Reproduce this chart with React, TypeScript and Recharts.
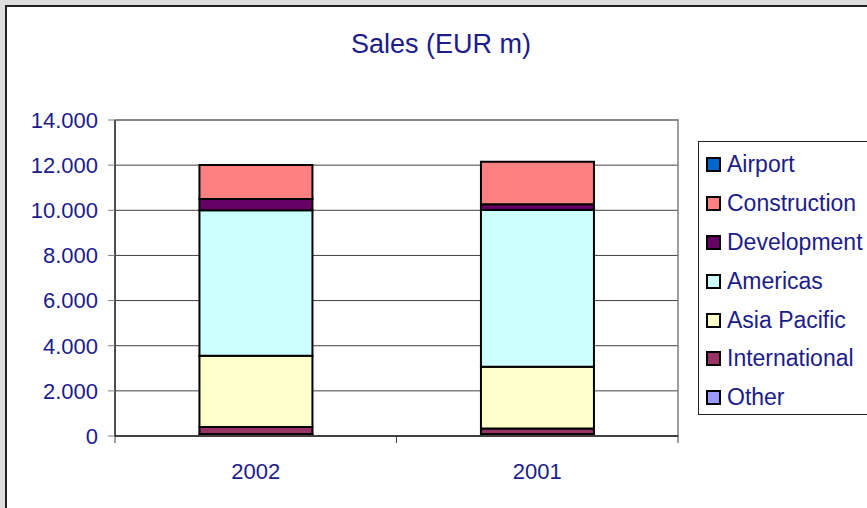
import React from 'react';
import { BarChart, Bar, XAxis, YAxis, CartesianGrid, ReferenceArea } from 'recharts';

const YEARS = ['2002', '2001'];

// stacked bottom → top
const OTHER = [90, 90];
const INTERNATIONAL = [310, 240];
const ASIA_PACIFIC = [3160, 2740];
const AMERICAS = [6440, 6940];
const DEVELOPMENT = [500, 260];
const CONSTRUCTION = [1510, 1880];
const AIRPORT = [0, 0];

const Y_TICKS = [0, 2000, 4000, 6000, 8000, 10000, 12000, 14000];

const SERIES = [
  { key: 'Other', values: OTHER, color: '#9999FF' },
  { key: 'International', values: INTERNATIONAL, color: '#993366' },
  { key: 'Asia Pacific', values: ASIA_PACIFIC, color: '#FFFFCC' },
  { key: 'Americas', values: AMERICAS, color: '#CCFFFF' },
  { key: 'Development', values: DEVELOPMENT, color: '#660066' },
  { key: 'Construction', values: CONSTRUCTION, color: '#FF8080' },
  { key: 'Airport', values: AIRPORT, color: '#0066CC' },
];

const data = YEARS.map((year, i) => {
  const row: Record<string, string | number> = { year };
  SERIES.forEach((s) => { row[s.key] = s.values[i]; });
  return row;
});

const NAVY = '#1c1c8a';
const FONT = '"Liberation Sans", Arial, Helvetica, sans-serif';

const fmt = (v: number) => String(v).replace(/\B(?=(\d{3})+(?!\d))/g, '.');

function YearTick(props: any) {
  const { x, y, payload } = props;
  const half = payload.offset ?? 0;
  return (
    <g>
      <line x1={x - half} x2={x - half} y1={y} y2={y + 7} stroke="#404040" />
      <line x1={x + half} x2={x + half} y1={y} y2={y + 7} stroke="#404040" />
      <text x={x} y={y + 43} textAnchor="middle" fill={NAVY} fontSize={22} fontFamily={FONT}>
        {payload.value}
      </text>
    </g>
  );
}

// legend lists the top of the stack first, like Excel does
function SalesLegend() {
  const items = [...SERIES].reverse();
  return (
    <div
      style={{
        position: 'absolute',
        left: 698,
        top: 141,
        width: 200,
        height: 274,
        border: '1px solid #222',
        background: '#fff',
        boxSizing: 'border-box',
        paddingTop: 3,
      }}
    >
      {items.map((it) => (
        <div key={it.key} style={{ display: 'flex', alignItems: 'center', height: 38.9, paddingLeft: 7 }}>
          <span
            style={{
              width: 15,
              height: 15,
              boxSizing: 'border-box',
              border: '2px solid #000',
              background: it.color,
              display: 'inline-block',
            }}
          />
          <span style={{ marginLeft: 6, fontSize: 23, color: NAVY, fontFamily: FONT, whiteSpace: 'nowrap' }}>
            {it.key}
          </span>
        </div>
      ))}
    </div>
  );
}

export default function App() {
  return (
    <div style={{ position: 'fixed', left: 0, top: 0, width: 867, height: 508, background: '#dedede', overflow: 'hidden' }}>
      <div
        style={{
          position: 'absolute',
          left: 5,
          top: 5,
          width: 900,
          height: 600,
          background: '#fff',
          borderLeft: '2px solid #222',
          borderTop: '2px solid #222',
        }}
      />
      <div
        style={{
          position: 'absolute',
          left: 0,
          top: 29,
          width: 882,
          textAlign: 'center',
          fontFamily: FONT,
          fontSize: 27,
          color: NAVY,
        }}
      >
        Sales (EUR m)
      </div>
      <div style={{ position: 'absolute', left: 0, top: 0 }}>
        <BarChart
          width={867}
          height={508}
          data={data}
          margin={{ top: 120, right: 189, bottom: 42, left: 35 }}
          barCategoryGap="30%"
        >
          <CartesianGrid horizontal vertical={false} stroke="#404040" />
          <ReferenceArea y1={0} y2={14000} fill="none" stroke="#808080" strokeWidth={1.5} ifOverflow="visible" />
          <XAxis
            dataKey="year"
            height={30}
            tickSize={0}
            tickMargin={0}
            tickLine={false}
            axisLine={{ stroke: '#404040', strokeWidth: 2 }}
            tick={<YearTick />}
            interval={0}
          />
          <YAxis
            width={80}
            domain={[0, 14000]}
            ticks={Y_TICKS}
            tickFormatter={fmt}
            tickSize={7}
            tickMargin={10}
            tickLine={{ stroke: '#808080' }}
            axisLine={{ stroke: '#000' }}
            tick={{ fill: NAVY, fontSize: 22, fontFamily: FONT }}
          />
          {SERIES.map((s) => (
            <Bar
              key={s.key}
              dataKey={s.key}
              stackId="sales"
              fill={s.color}
              stroke="#000"
              strokeWidth={2}
              isAnimationActive={false}
            />
          ))}
        </BarChart>
      </div>
      <SalesLegend />
    </div>
  );
}
